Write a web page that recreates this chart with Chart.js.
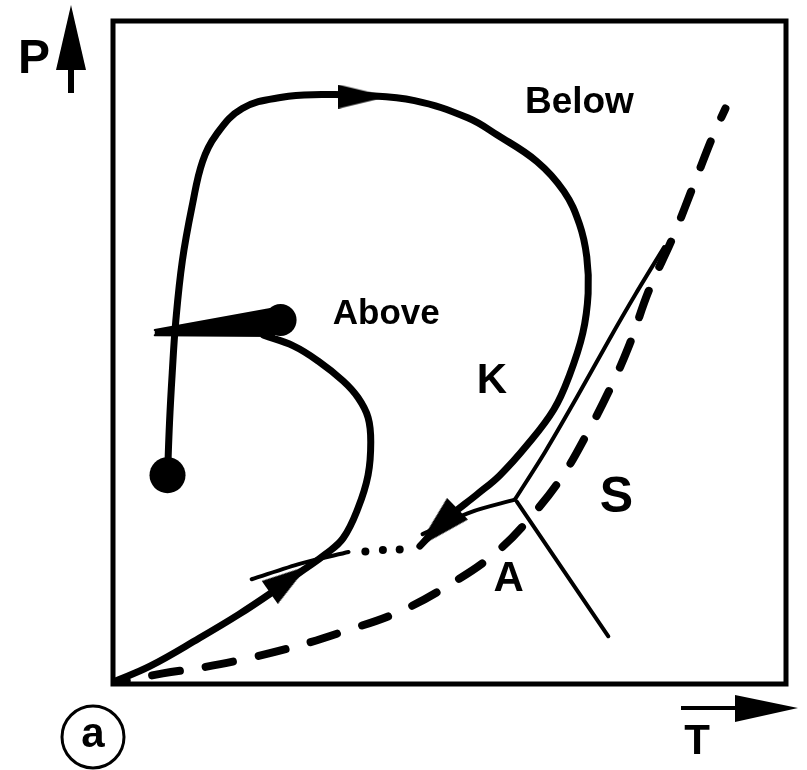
<!DOCTYPE html>
<html lang="en">
<head>
    <meta charset="UTF-8">
    <title>P-T diagram (a)</title>
    <script src="https://cdn.jsdelivr.net/npm/chart.js"></script>
    <style>
        html, body { margin: 0; padding: 0; background: #fff; }
        canvas { display: block; }
    </style>
</head>
<body>
    <canvas id="ptChart" width="807" height="770"></canvas>
    <script>
        // Path K: from the lower dot, up and over, back down to the A/K boundary
        const loopT = [8.1, 8.4, 8.8, 9.3, 10.3, 11.8, 13.3, 15.3, 19.2, 25.1, 31.0, 36.9, 44.8, 52.7, 57.1, 63.0, 67.0, 69.3, 70.4, 70.6, 69.8, 67.8, 65.5, 61.5, 57.5, 54.1, 49.7, 45.6];
        const loopP = [31.5, 39.5, 46.9, 54.4, 63.8, 72.3, 78.8, 82.8, 86.8, 88.5, 88.9, 88.8, 88.0, 85.4, 82.8, 78.8, 74.3, 69.4, 64.4, 58.9, 52.9, 46.5, 41.4, 36.0, 31.5, 28.6, 25.0, 20.8];

        // Path "Above": from the origin, up through A, round to the upper dot
        const aboveT = [0, 5.5, 12.8, 18.7, 23.6, 28.3, 31.6, 34.2, 36.4, 37.9, 38.3, 37.9, 36.4, 34.2, 30.5, 26.8, 22.4];
        const aboveP = [0.3, 2.7, 6.9, 10.5, 13.8, 17.2, 19.6, 22.0, 26.5, 31.5, 36.5, 40.2, 43.2, 45.7, 48.7, 51.0, 52.6];

        // tapered stroke running into the upper dot
        const wedgeT = [6.2, 24.6, 23.9, 6.2];
        const wedgeP = [53.4, 56.8, 52.5, 52.6];

        // phase boundaries (thin lines)
        const akT = [20.6, 28.0, 35.0];
        const akP = [15.8, 18.2, 19.9];
        const akDotsT = [37.5, 40.1, 42.6];
        const akDotsP = [20.0, 20.2, 20.3];
        const ak2T = [46.0, 53.1, 59.7];
        const ak2P = [22.6, 25.9, 27.8];
        const ksT = [59.7, 64.2, 68.9, 73.7, 77.7, 81.9];
        const ksP = [27.8, 35.0, 43.2, 51.9, 58.9, 65.9];
        const asT = [60.0, 73.6];
        const asP = [27.5, 7.2];

        // dashed curve
        const dashT = [0, 7.4, 13.3, 20.6, 27.6, 34.2, 42.3, 49.7, 57.1, 63.0, 67.0, 70.4, 73.7, 76.7, 79.6, 83.2, 86.6, 89.2, 91.0];
        const dashP = [0.1, 1.6, 2.5, 4.0, 5.8, 7.9, 10.8, 14.8, 20.0, 26.3, 31.7, 37.7, 44.2, 51.1, 59.3, 67.4, 76.1, 82.8, 86.8];

        // start / end dots
        const dotT = [8.1, 24.9];
        const dotP = [31.5, 54.9];

        // arrowheads along the paths
        const arrowT = [37.2, 48.2, 26.1];
        const arrowP = [88.6, 23.5, 15.8];

        // region labels
        const labelText = ['Below', 'Above', 'K', 'S', 'A'];
        const labelT = [69.3, 40.6, 56.3, 74.8, 58.8];
        const labelP = [87.7, 55.8, 45.7, 28.0, 15.8];

        function pts(xs, ys) {
            return xs.map((x, i) => ({x: x, y: ys[i]}));
        }

        function arrowHead(len, wid) {
            const c = document.createElement('canvas');
            c.width = len;
            c.height = wid;
            const g = c.getContext('2d');
            g.fillStyle = '#000';
            g.beginPath();
            g.moveTo(0, 0);
            g.lineTo(len, wid / 2);
            g.lineTo(0, wid);
            g.closePath();
            g.fill();
            return c;
        }

        const black = '#000';
        const lineDefaults = {
            type: 'line',
            borderColor: black,
            backgroundColor: black,
            pointRadius: 0,
            fill: false,
            borderCapStyle: 'round',
            borderJoinStyle: 'round'
        };

        const frameAndText = {
            id: 'frameAndText',
            afterDatasetsDraw(chart) {
                const ctx = chart.ctx;
                const a = chart.chartArea;
                const xs = chart.scales.x, ys = chart.scales.y;
                ctx.save();
                ctx.strokeStyle = black;
                ctx.fillStyle = black;
                ctx.lineWidth = 5;
                ctx.strokeRect(a.left, a.top, a.right - a.left, a.bottom - a.top);

                ctx.textAlign = 'center';
                ctx.textBaseline = 'middle';
                const sizes = [37, 35, 42, 50, 42];
                labelText.forEach((t, i) => {
                    ctx.font = 'bold ' + sizes[i] + 'px "Liberation Sans", Arial, sans-serif';
                    ctx.fillText(t, xs.getPixelForValue(labelT[i]), ys.getPixelForValue(labelP[i]));
                });

                // P axis arrow
                ctx.font = 'bold 48px "Liberation Sans", Arial, sans-serif';
                ctx.fillText('P', 34, 60);
                ctx.fillRect(68, 55, 6, 38);
                ctx.beginPath();
                ctx.moveTo(71, 5);
                ctx.lineTo(86, 70);
                ctx.lineTo(56, 70);
                ctx.closePath();
                ctx.fill();

                // T axis arrow
                ctx.fillRect(681, 706, 60, 4);
                ctx.beginPath();
                ctx.moveTo(798, 708);
                ctx.lineTo(735, 695);
                ctx.lineTo(735, 722);
                ctx.closePath();
                ctx.fill();
                ctx.font = 'bold 42px "Liberation Sans", Arial, sans-serif';
                ctx.fillText('T', 697, 742);

                // panel tag
                ctx.lineWidth = 3;
                ctx.beginPath();
                ctx.ellipse(93, 737, 31, 31, 0, 0, Math.PI * 2);
                ctx.stroke();
                ctx.font = 'bold 42px "Liberation Sans", Arial, sans-serif';
                ctx.fillText('a', 93, 735);
                ctx.restore();
            }
        };

        new Chart(document.getElementById('ptChart'), {
            data: {
                datasets: [
                    Object.assign({}, lineDefaults, {data: pts(loopT, loopP), borderWidth: 7, tension: 0.4}),
                    Object.assign({}, lineDefaults, {data: pts(aboveT, aboveP), borderWidth: 7, tension: 0.4}),
                    Object.assign({}, lineDefaults, {data: pts(wedgeT, wedgeP), borderWidth: 2, fill: 'shape', tension: 0}),
                    Object.assign({}, lineDefaults, {data: pts(akT, akP), borderWidth: 4, tension: 0.3}),
                    Object.assign({}, lineDefaults, {data: pts(akDotsT, akDotsP), showLine: false, pointRadius: 4, pointBackgroundColor: black, pointBorderWidth: 0}),
                    Object.assign({}, lineDefaults, {data: pts(ak2T, ak2P), borderWidth: 4, tension: 0.3}),
                    Object.assign({}, lineDefaults, {data: pts(ksT, ksP), borderWidth: 4, tension: 0.3}),
                    Object.assign({}, lineDefaults, {data: pts(asT, asP), borderWidth: 4}),
                    Object.assign({}, lineDefaults, {data: pts(dashT, dashP), borderWidth: 8, tension: 0.4, borderDash: [28, 26], borderDashOffset: -40}),
                    Object.assign({}, lineDefaults, {data: pts(dotT, dotP), showLine: false, pointRadius: [18, 16], pointBackgroundColor: black, pointBorderWidth: 0}),
                    Object.assign({}, lineDefaults, {
                        data: pts(arrowT, arrowP),
                        showLine: false,
                        pointRadius: 20,
                        pointStyle: [arrowHead(50, 24), arrowHead(56, 30), arrowHead(46, 28)],
                        pointRotation: [0, 136, -35]
                    })
                ]
            },
            options: {
                responsive: false,
                animation: false,
                events: [],
                layout: { padding: { left: 113, top: 15, right: 16, bottom: 86 } },
                scales: {
                    x: { type: 'linear', min: 0, max: 100, display: false },
                    y: { type: 'linear', min: 0, max: 100, display: false }
                },
                plugins: {
                    legend: { display: false },
                    tooltip: { enabled: false }
                }
            },
            plugins: [frameAndText]
        });
    </script>
</body>
</html>
